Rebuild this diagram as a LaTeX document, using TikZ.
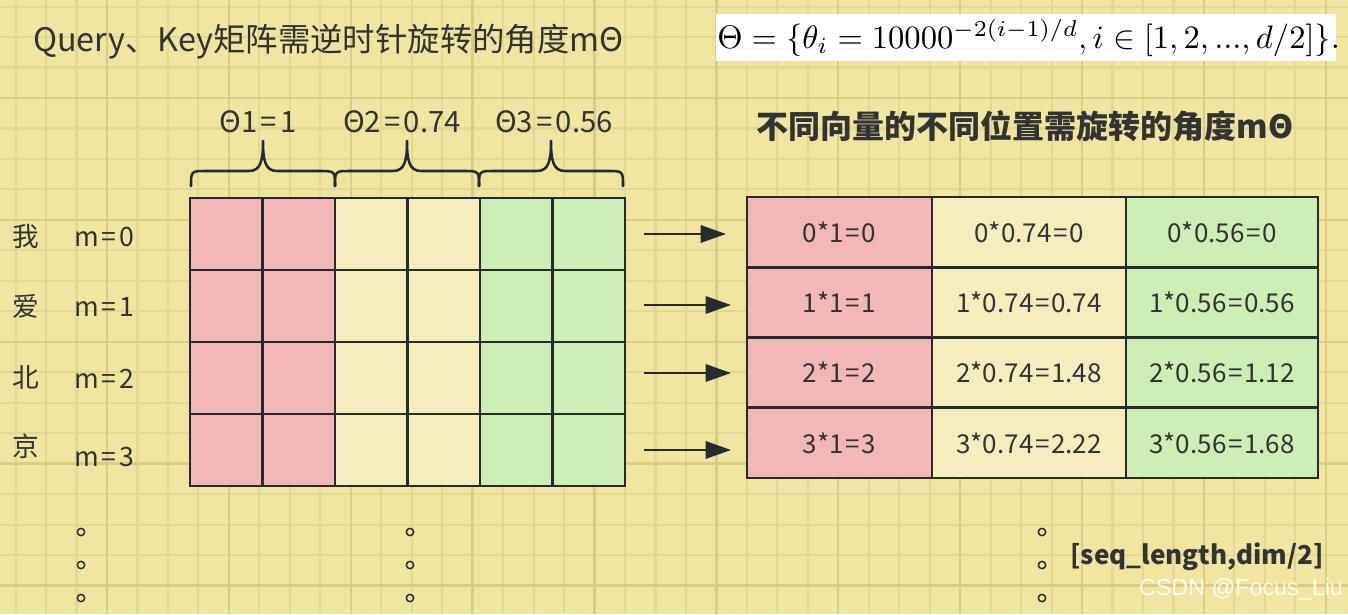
\documentclass[tikz,border=0pt]{standalone}
\usepackage[no-math]{fontspec}
\setmainfont{Noto Sans CJK SC}
\newfontfamily\wmfont{Liberation Sans}
\usepackage{graphicx}
\usetikzlibrary{arrows.meta}
\definecolor{bg}{RGB}{240,229,161}
\definecolor{gminor}{RGB}{229,216,146}
\definecolor{gmajor}{RGB}{219,205,134}
\definecolor{ink}{RGB}{51,51,51}
\definecolor{edge}{RGB}{38,43,48}
\definecolor{cred}{RGB}{244,183,183}
\definecolor{cyel}{RGB}{246,237,191}
\definecolor{cgrn}{RGB}{205,239,182}
\newcommand{\eqs}[1]{\kern#1=\kern#1}
\tikzset{
  minorline/.style={gminor, line width=1.6pt},
  majorline/.style={gmajor, line width=1.8pt},
  qcell/.style={draw=edge, line width=2pt, minimum width=54.375pt, minimum height=54pt, inner sep=0},
  tcell/.style={draw=edge, line width=2pt, minimum height=52.69pt, inner sep=0, text=ink, font=\fontsize{19.5}{21}\selectfont},
  lbl/.style={text=ink, inner sep=0, font=\fontsize{20}{22}\selectfont},
  thlbl/.style={text=ink, inner sep=0, font=\fontsize{22}{24}\selectfont},
  arr/.style={edge, line width=1.6pt, -{Triangle[length=19pt,width=13pt]}},
  bracestyle/.style={edge, line width=1.9pt, line cap=round, line join=round},
  dotc/.style={circle, draw=edge, line width=1.1pt, minimum size=5.5pt, inner sep=0},
}
\begin{document}
\begin{tikzpicture}[x=0.75pt,y=-0.75pt]
\useasboundingbox (0,0) rectangle (1348,614);
\fill[bg] (0,0) rectangle (1348,614);
% background grid
\foreach \i in {0,...,44} {
  \draw[minorline] (15.6+30.47*\i,0) -- (15.6+30.47*\i,614);
}
\foreach \i in {0,...,20} {
  \draw[minorline] (0,6.6+30.47*\i) -- (1348,6.6+30.47*\i);
}
\foreach \i in {0,...,11} {
  \draw[majorline] (107+121.88*\i-121.88,0) -- (107+121.88*\i-121.88,614);
}
\foreach \i in {0,...,5} {
  \draw[majorline] (0,98+121.88*\i-121.88) -- (1348,98+121.88*\i-121.88);
}

% titles
\node[anchor=west, text=ink, inner sep=0, font=\fontsize{24.3}{26}\selectfont] (title) at (33,42) {Query、Key矩阵需逆时针旋转的角度mΘ};
\fill[white] (716,14) rectangle (1336,61);
\begin{scope}
\clip (716,14) rectangle (1337,61);
\node[anchor=west, inner sep=0] (formula) at (717,38) {\resizebox{467pt}{!}{$\Theta=\{\theta_i=10000^{-2(i-1)/d},i\in[1,2,...,d/2]\}.$}};
\end{scope}
\node[text=ink, inner sep=0, font=\fontsize{24}{26}\selectfont\bfseries] (rtitle) at (1025,126) {不同向量的不同位置需旋转的角度mΘ};

% theta labels and braces
\node[thlbl] (th1) at (258,122) {Θ1\eqs{2.5pt}1};
\node[thlbl] (th2) at (402,122) {Θ2\eqs{2.5pt}0.74};
\node[thlbl] (th3) at (554,122) {Θ3\eqs{2.5pt}0.56};
\foreach \a/\b in {191/335, 335/479, 479/623} {
  \pgfmathsetmacro{\m}{(\a+\b)/2}
  \draw[bracestyle] (\a,186) .. controls (\a,171) .. (\a+16,171) -- (\m-14,171)
     .. controls (\m-2,171) and (\m,160) .. (\m,141)
     .. controls (\m,160) and (\m+2,171) .. (\m+14,171) -- (\b-16,171)
     .. controls (\b,171) .. (\b,186);
}

% left matrix
\foreach \r in {1,...,4} {
  \foreach \c/\col in {1/cred,2/cred,3/cyel,4/cyel,5/cgrn,6/cgrn} {
    \node[qcell, fill=\col] (q-\r-\c) at ({226.25+72.5*(\c-1)},{234+72*(\r-1)}) {};
  }
}

% row labels
\node[lbl] (w1) at (26,237) {我};
\node[lbl] (w2) at (26,306) {爱};
\node[lbl] (w3) at (26,377) {北};
\node[lbl] (w4) at (26,446) {京};
\node[lbl] (m1) at (104,237) {m\eqs{2pt}0};
\node[lbl] (m2) at (104,307) {m\eqs{2pt}1};
\node[lbl] (m3) at (104,379) {m\eqs{2pt}2};
\node[lbl] (m4) at (104,457) {m\eqs{2pt}3};

% right table
\foreach \r/\b/\cc/\dd [count=\k] in {0/0/0/0, 1/1/0.74/0.56, 2/2/1.48/1.12, 3/3/2.22/1.68} {
  \node[tcell, fill=cred, minimum width=138.75pt] (t-\k-1) at (839.5,{232.1+70.25*(\k-1)}) {\r*1\eqs{1.2pt}\b};
  \node[tcell, fill=cyel, minimum width=145.5pt] (t-\k-2) at (1029,{232.1+70.25*(\k-1)}) {\r*0.74\eqs{1.2pt}\cc};
  \node[tcell, fill=cgrn, minimum width=144pt] (t-\k-3) at (1222,{232.1+70.25*(\k-1)}) {\r*0.56\eqs{1.2pt}\dd};
}

% arrows
\coordinate (s1) at (644,234); \coordinate (e1) at (726,234);
\coordinate (s2) at (644,305); \coordinate (e2) at (731,305);
\coordinate (s3) at (644,373); \coordinate (e3) at (731,373);
\coordinate (s4) at (644,450); \coordinate (e4) at (731,450);
\foreach \k in {1,...,4} { \draw[arr] (s\k) -- (e\k); }

% dots
\foreach \x/\n in {81/a, 410/b, 1042/c} {
  \node[dotc] (d\n1) at (\x,532) {};
  \node[dotc] (d\n2) at (\x,565) {};
  \node[dotc] (d\n3) at (\x,598) {};
}

\node[text=ink, inner sep=0, font=\fontsize{19.5}{21}\selectfont\bfseries] (shape) at (1197,557) {[seq\_length,dim/2]};
\node[text=white, opacity=0.85, inner sep=0, font=\wmfont\fontsize{17.5}{19}\selectfont] (wm) at (1241,589) {CSDN @Focus\_Liu};
\end{tikzpicture}
\end{document}
